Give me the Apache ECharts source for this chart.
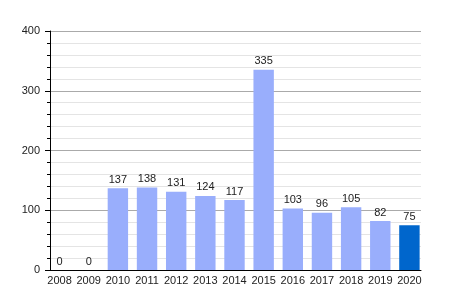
<!DOCTYPE html>
<html><head><meta charset="utf-8">
<script src="https://cdn.jsdelivr.net/npm/echarts@6/dist/echarts.min.js"></script>
<style>html,body{margin:0;padding:0;background:#fff}#c{width:450px;height:300px}</style>
</head><body><div id="c"></div>
<script>
var categories = ['2008','2009','2010','2011','2012','2013','2014','2015','2016','2017','2018','2019','2020'];
var values = [0,0,137,138,131,124,117,335,103,96,105,82,75];
var yTicks = [0,100,200,300,400];
var barColor = '#99aefc';
var lastColor = '#0066cc';

var yMin = yTicks[0], yMax = yTicks[yTicks.length-1];
var chart = echarts.init(document.getElementById('c'), null, {renderer:'canvas'});
chart.setOption({
  animation:false,
  textStyle:{fontFamily:'Liberation Sans, Arial, sans-serif'},
  grid:[
    {left:50,right:29,top:31,bottom:30,containLabel:false},
    {left:45,right:26,top:31,bottom:30,containLabel:false}
  ],
  xAxis:[
    {gridIndex:0,type:'category',data:categories,
      axisLine:{show:true,lineStyle:{color:'#000',width:1}},
      axisTick:{show:false},axisLabel:{show:false},splitLine:{show:false}},
    {gridIndex:1,type:'category',data:categories,
      axisLine:{show:false},axisTick:{show:false},
      axisLabel:{color:'#222',fontSize:11,margin:5,interval:0}}
  ],
  yAxis:[
    {gridIndex:0,type:'value',min:yMin,max:yMax,interval:100,
      axisLine:{show:true,lineStyle:{color:'#000',width:1}},
      axisTick:{show:true,length:5,lineStyle:{color:'#000'}},
      minorTick:{show:true,splitNumber:5,length:3,lineStyle:{color:'#000'}},
      splitLine:{show:true,lineStyle:{color:'#aaa',width:1}},
      minorSplitLine:{show:true,lineStyle:{color:'#e4e4e4',width:1}},
      axisLabel:{color:'#222',fontSize:11,margin:10}},
    {gridIndex:1,type:'value',min:yMin,max:yMax,interval:100,show:false,
      splitLine:{show:false}}
  ],
  series:[{type:'bar',xAxisIndex:1,yAxisIndex:1,barCategoryGap:'30%',
    data:values.map(function(v,i){return {value:v,itemStyle:{color:i===values.length-1?lastColor:barColor}};}),
    label:{show:true,position:'top',color:'#222',fontSize:11,distance:3}}]
});
</script></body></html>
